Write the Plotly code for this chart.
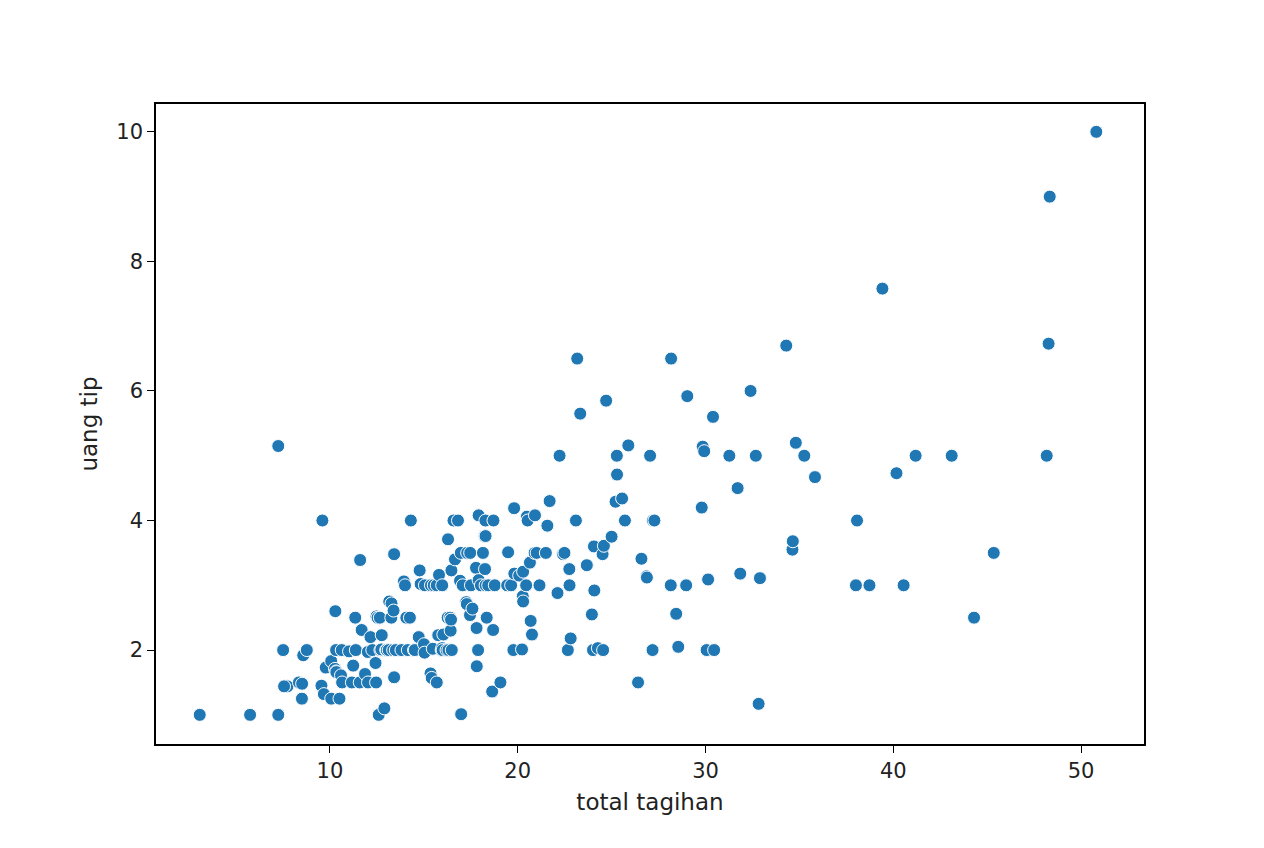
import plotly.graph_objects as go

total_bill = [3.07,5.75,7.25,7.25,7.74,8.35,8.51,8.52,8.58,8.77,9.55,9.6,9.68,9.78,10.07,10.07,10.27,10.29,10.33,10.33,10.34,10.51,10.59,10.63,10.65,11.02,11.17,11.24,11.35,11.38,11.59,11.61,11.69,11.87,12.02,12.03,12.16,12.26,12.43,12.46,12.48,12.54,12.6,12.66,12.69,12.74,12.76,12.9,13.0,13.03,13.13,13.16,13.27,13.28,13.37,13.39,13.42,13.42,13.51,13.81,13.94,14.0,14.07,14.15,14.26,14.31,14.48,14.52,14.73,14.78,14.83,15.01,15.04,15.06,15.36,15.38,15.42,15.48,15.53,15.69,15.69,15.77,15.81,15.95,15.98,15.98,16.0,16.04,16.21,16.27,16.29,16.31,16.4,16.43,16.45,16.47,16.49,16.58,16.66,16.82,16.93,16.97,16.99,17.07,17.26,17.29,17.31,17.46,17.47,17.51,17.59,17.78,17.81,17.82,17.89,17.92,17.92,18.04,18.15,18.24,18.26,18.28,18.29,18.29,18.35,18.43,18.64,18.69,18.71,18.78,19.08,19.44,19.49,19.65,19.77,19.81,19.82,20.08,20.23,20.27,20.29,20.29,20.45,20.49,20.53,20.65,20.69,20.76,20.9,20.92,21.01,21.16,21.5,21.58,21.7,22.12,22.23,22.42,22.49,22.67,22.75,22.76,22.82,23.1,23.17,23.33,23.68,23.95,24.01,24.06,24.08,24.27,24.52,24.55,24.59,24.71,25.0,25.21,25.28,25.29,25.56,25.71,25.89,26.41,26.59,26.86,26.88,27.05,27.18,27.2,27.28,28.15,28.17,28.44,28.55,28.97,29.03,29.8,29.85,29.93,30.06,30.14,30.4,30.46,31.27,31.71,31.85,32.4,32.68,32.83,32.9,34.3,34.63,34.65,34.81,35.26,35.83,38.01,38.07,38.73,39.42,40.17,40.55,41.19,43.11,44.3,45.35,48.17,48.27,48.33,50.81,7.51,7.56]
tip = [1.0,1.0,1.0,5.15,1.44,1.5,1.25,1.48,1.92,2.0,1.45,4.0,1.32,1.73,1.83,1.25,1.71,2.6,1.67,2.0,1.66,1.25,1.61,2.0,1.5,1.98,1.5,1.76,2.5,2.0,1.5,3.39,2.31,1.63,1.97,1.5,2.2,2.0,1.8,1.5,2.52,2.5,1.0,2.5,2.0,2.01,2.23,1.1,2.0,2.0,2.0,2.75,2.5,2.72,2.0,2.61,3.48,1.58,2.0,2.0,3.06,3.0,2.5,2.0,2.5,4.0,2.0,2.0,2.2,3.23,3.02,2.09,1.96,3.0,1.64,3.0,1.57,2.02,3.0,3.0,1.5,2.23,3.16,2.0,2.03,3.0,2.0,2.24,2.0,2.5,3.71,2.0,2.5,2.3,2.47,3.23,2.0,4.0,3.4,4.0,3.07,3.5,1.01,3.0,2.74,2.71,3.5,2.54,3.5,3.0,2.64,3.27,2.34,1.75,2.0,4.08,3.08,3.0,3.5,3.76,3.25,4.0,3.76,3.0,2.5,3.0,1.36,2.31,4.0,3.0,1.5,3.0,3.51,3.0,2.0,4.19,3.18,3.15,2.01,2.83,2.75,3.21,3.0,4.06,4.0,3.35,2.45,2.24,3.5,4.08,3.5,3.0,3.5,3.92,4.3,2.88,5.0,3.48,3.5,2.0,3.25,3.0,2.18,4.0,6.5,5.65,3.31,2.55,2.0,3.6,2.92,2.03,3.48,2.0,3.61,5.85,3.75,4.29,5.0,4.71,4.34,4.0,5.16,1.5,3.41,3.14,3.12,5.0,2.0,4.0,4.0,3.0,6.5,2.56,2.05,3.0,5.92,4.2,5.14,5.07,2.0,3.09,5.6,2.0,5.0,4.5,3.18,6.0,5.0,1.17,3.11,6.7,3.55,3.68,5.2,5.0,4.67,3.0,4.0,3.0,7.58,4.73,3.0,5.0,5.0,2.5,3.5,5.0,6.73,9.0,10.0,2.0,1.44]

fig = go.Figure(go.Scatter(
    x=total_bill, y=tip, mode="markers",
    marker=dict(color="#1f77b4", size=13, line=dict(color="white", width=1)),
))
ax = dict(showgrid=False, zeroline=False, showline=True, linecolor="black", linewidth=1.5,
          mirror=True, ticks="outside", ticklen=7, tickcolor="black",
          tickfont=dict(size=21, color="#222"), title_font=dict(size=23, color="#222"))
fig.update_layout(
    width=1264, height=848, plot_bgcolor="white", paper_bgcolor="white",
    font=dict(family="DejaVu Sans"), showlegend=False,
    margin=dict(l=148, r=128, t=96, b=112),
    xaxis=dict(ax, range=[0.74, 53.35], tickvals=[10, 20, 30, 40, 50], title_text="total tagihan", title_standoff=12),
    yaxis=dict(ax, range=[0.55, 10.43], tickvals=[2, 4, 6, 8, 10], title_text="uang tip", title_standoff=12),
)
fig.write_html("out.html")
